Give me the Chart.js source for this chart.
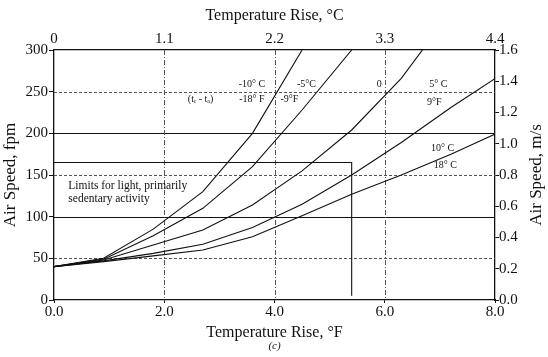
<!DOCTYPE html>
<html><head><meta charset="utf-8">
<script src="https://cdn.jsdelivr.net/npm/chart.js@4.4.1/dist/chart.umd.min.js"></script>
<style>html,body{margin:0;padding:0;background:#fff;}#wrap{width:548px;height:357px;}</style>
</head><body><div id="wrap"><canvas id="c" width="548" height="357"></canvas></div>
<script>
// ---- data ----
const tempRiseF = [0, 0.9, 1.8, 2.7, 3.6, 4.5, 5.4, 6.3, 7.2, 8.1];
const speedMinus10C = [40, 50, 85, 130, 200, 300];
const speedMinus5C  = [40, 49, 77, 110, 160, 228, 300];
const speed0C       = [40, 48, 66, 84, 114, 155, 204, 266, 346];
const speed5C       = [40, 47, 56, 67, 87, 115, 150, 189, 231, 270];
const speed10C      = [40, 46, 53, 60, 76, 101, 127, 150, 175, 202];
const limitX = [0, 5.4, 5.4];
const limitY = [165, 165, 5];

const xTicksF = [0, 2, 4, 6, 8];
const xTickLabelsF = ['0.0', '2.0', '4.0', '6.0', '8.0'];
const xTicksC = [0, 1.1, 2.2, 3.3, 4.4];
const xTickLabelsC = ['0', '1.1', '2.2', '3.3', '4.4'];
const yTicksFpm = [0, 50, 100, 150, 200, 250, 300];
const yTickLabelsFpm = ['0', '50', '100', '150', '200', '250', '300'];
const yTicksMs = [0, 0.2, 0.4, 0.6, 0.8, 1.0, 1.2, 1.4, 1.6];
const yTickLabelsMs = ['0.0', '0.2', '0.4', '0.6', '0.8', '1.0', '1.2', '1.4', '1.6'];
const solidGridFpm = [100, 200];
const dottedGridFpm = [50, 150, 250];
const gridF = [2, 4, 6];

const curveLabels = [
  {text: '-10° C', x: 3.59, y: 259},
  {text: '-18° F', x: 3.59, y: 241},
  {text: '(tᵣ - tₐ)', x: 2.66, y: 241},
  {text: '-5°C', x: 4.58, y: 259},
  {text: '-9°F', x: 4.27, y: 241},
  {text: '0', x: 5.9, y: 259},
  {text: '5° C', x: 6.97, y: 259},
  {text: '9°F', x: 6.9, y: 237},
  {text: '10° C', x: 7.05, y: 182},
  {text: '18° C', x: 7.1, y: 162}
];
const noteLines = [
  {text: 'Limits for light, primarily', x: 0.26, y: 137},
  {text: 'sedentary activity', x: 0.26, y: 121}
];

const pairs = (ys) => ys.map((v, i) => ({x: tempRiseF[i], y: v}));
const INK = '#111';
const SERIF = "'Liberation Serif', 'DejaVu Serif', serif";

function lineSet(data) {
  return {data, borderColor: INK, borderWidth: 1.1, pointRadius: 0, showLine: true, tension: 0, fill: false};
}

const gridPlugin = {
  id: 'grid',
  beforeDatasetsDraw(chart) {
    const {ctx, chartArea: ca, scales: {x, y}} = chart;
    ctx.save();
    ctx.lineWidth = 1;
    ctx.strokeStyle = '#555';
    ctx.setLineDash([3, 2]);
    dottedGridFpm.forEach(v => {
      const py = Math.round(y.getPixelForValue(v)) + 0.5;
      ctx.beginPath(); ctx.moveTo(ca.left, py); ctx.lineTo(ca.right, py); ctx.stroke();
    });
    ctx.setLineDash([]);
    ctx.strokeStyle = INK;
    solidGridFpm.forEach(v => {
      const py = Math.round(y.getPixelForValue(v)) + 0.5;
      ctx.beginPath(); ctx.moveTo(ca.left, py); ctx.lineTo(ca.right, py); ctx.stroke();
    });
    ctx.strokeStyle = '#555';
    ctx.setLineDash([5, 2, 1, 2]);
    gridF.forEach(v => {
      const px = Math.round(x.getPixelForValue(v)) + 0.5;
      ctx.beginPath(); ctx.moveTo(px, ca.top); ctx.lineTo(px, ca.bottom); ctx.stroke();
    });
    ctx.restore();
  },
  afterDraw(chart) {
    const {ctx, chartArea: ca, scales: {x, y}} = chart;
    ctx.save();
    ctx.fillStyle = INK;
    ctx.textBaseline = 'middle';
    ctx.textAlign = 'center';
    ctx.font = '10px ' + SERIF;
    curveLabels.forEach(l => ctx.fillText(l.text, x.getPixelForValue(l.x), y.getPixelForValue(l.y)));
    ctx.textAlign = 'left';
    ctx.font = '11.5px ' + SERIF;
    noteLines.forEach(l => ctx.fillText(l.text, x.getPixelForValue(l.x), y.getPixelForValue(l.y)));
    // right axis title (reads bottom to top)
    ctx.font = '17px ' + SERIF;
    ctx.textAlign = 'center';
    ctx.save();
    ctx.translate(537, (ca.top + ca.bottom) / 2);
    ctx.rotate(-Math.PI / 2);
    ctx.fillText('Air Speed, m/s', 0, 0);
    ctx.restore();
    ctx.font = 'italic 11px ' + SERIF;
    ctx.fillText('(c)', (ca.left + ca.right) / 2, 346);
    ctx.restore();
  }
};

const tickFont = {family: SERIF, size: 15};
const titleFont = {family: SERIF, size: 16};

new Chart(document.getElementById('c'), {
  type: 'scatter',
  data: {
    datasets: [
      lineSet(pairs(speedMinus10C)),
      lineSet(pairs(speedMinus5C)),
      lineSet(pairs(speed0C)),
      lineSet(pairs(speed5C)),
      lineSet(pairs(speed10C)),
      lineSet(limitX.map((v, i) => ({x: v, y: limitY[i]})))
    ]
  },
  options: {
    responsive: false,
    devicePixelRatio: 1,
    animation: false,
    layout: {padding: 0},
    plugins: {legend: {display: false}, tooltip: {enabled: false}},
    scales: {
      x: {
        type: 'linear', position: 'bottom', min: 0, max: 8,
        afterBuildTicks: s => { s.ticks = xTicksF.map(v => ({value: v})); },
        afterFit: s => { s.height = 57; },
        ticks: {callback: (v, i) => xTickLabelsF[i], font: tickFont, color: INK, padding: 0, maxRotation: 0, autoSkip: false},
        grid: {drawOnChartArea: false, tickLength: 3, color: INK},
        border: {color: INK, width: 1.3},
        title: {display: true, text: 'Temperature Rise, °F', font: titleFont, color: INK, padding: {top: 0, bottom: 15}}
      },
      x2: {
        type: 'linear', position: 'top', min: 0, max: 4.4,
        afterBuildTicks: s => { s.ticks = xTicksC.map(v => ({value: v})); },
        afterFit: s => { s.height = 50; },
        ticks: {callback: (v, i) => xTickLabelsC[i], font: tickFont, color: INK, padding: 2, maxRotation: 0, autoSkip: false},
        grid: {drawOnChartArea: false, drawTicks: false},
        border: {color: INK, width: 1.3},
        title: {display: true, text: 'Temperature Rise, °C', font: titleFont, color: INK, padding: {top: 6, bottom: 0}}
      },
      y: {
        type: 'linear', position: 'left', min: 0, max: 300,
        afterBuildTicks: s => { s.ticks = yTicksFpm.map(v => ({value: v})); },
        afterFit: s => { s.width = 54; },
        ticks: {callback: (v, i) => yTickLabelsFpm[i], font: tickFont, color: INK, padding: 1, autoSkip: false},
        grid: {drawOnChartArea: false, tickLength: 5, color: INK},
        border: {color: INK, width: 1.3},
        title: {display: true, text: 'Air Speed, fpm', font: {family: SERIF, size: 17}, color: INK, padding: {top: 0, bottom: 0}}
      },
      y2: {
        type: 'linear', position: 'right', min: 0, max: 1.6,
        afterBuildTicks: s => { s.ticks = yTicksMs.map(v => ({value: v})); },
        afterFit: s => { s.width = 53; },
        ticks: {callback: (v, i) => yTickLabelsMs[i], font: tickFont, color: INK, padding: 0, autoSkip: false},
        grid: {drawOnChartArea: false, tickLength: 4, color: INK},
        border: {color: INK, width: 1.3}
      }
    }
  },
  plugins: [gridPlugin]
});
</script></body></html>
